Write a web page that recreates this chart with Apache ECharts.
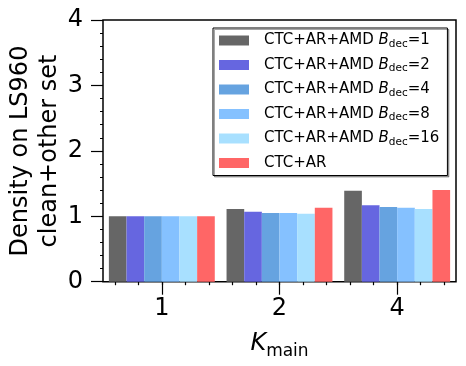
<!DOCTYPE html>
<html><head><meta charset="utf-8">
<script src="https://cdn.jsdelivr.net/npm/echarts@6/dist/echarts.min.js"></script>
<style>html,body{margin:0;padding:0;background:#fff}#c{width:466px;height:366px}</style>
</head><body><div id="c"></div>
<script>
var categories = ['1', '2', '4'];
var bdecValues = [1, 2, 4, 8, 16];
var seriesNames = ['CTC+AR+AMD B_dec=1', 'CTC+AR+AMD B_dec=2', 'CTC+AR+AMD B_dec=4', 'CTC+AR+AMD B_dec=8', 'CTC+AR+AMD B_dec=16', 'CTC+AR'];
var amd1 = [1.00, 1.11, 1.39];
var amd2 = [1.00, 1.07, 1.17];
var amd4 = [1.00, 1.05, 1.14];
var amd8 = [1.00, 1.05, 1.13];
var amd16 = [1.00, 1.04, 1.11];
var ctcAr = [1.00, 1.13, 1.40];
var seriesValues = [amd1, amd2, amd4, amd8, amd16, ctcAr];
var colors = ['#666666', '#6666e0', '#66a3e0', '#85c1ff', '#a8e0ff', '#ff6666'];
var yTicks = [0, 1, 2, 3, 4];
var yLabel = 'Density on LS960\nclean+other set';

var FONT = 'DejaVu Sans';
var BIG = 24;
var chart = echarts.init(document.getElementById('c'), null, {renderer: 'canvas'});

var series = seriesValues.map(function (vals, i) {
  return {
    name: seriesNames[i], type: 'bar', xAxisIndex: 0, yAxisIndex: 0,
    data: vals, barGap: '0%', barCategoryGap: '10%',
    itemStyle: {color: colors[i]}, emphasis: {disabled: true}, animation: false
  };
});

var bandLeft = 103, bandRight = 10;
var band = (466 - bandLeft - bandRight) / 3;

var option = {
  animation: false,
  color: colors,
  grid: [
    {left: bandLeft, right: bandRight, top: 20, bottom: 84.3, show: true, borderColor: '#000', borderWidth: 1.5, backgroundColor: 'transparent'},
    {left: bandLeft + 0.1 * band, right: 466 - (bandLeft + 2.9 * band), top: 20, bottom: 84.3, show: false}
  ],
  xAxis: [
    {type: 'category', gridIndex: 0, data: categories,
     axisLine: {show: false},
     axisTick: {show: true, alignWithLabel: true, length: 13, lineStyle: {color: '#000', width: 1.2}},
     axisLabel: {fontSize: BIG, fontFamily: FONT, color: '#000', margin: 15},
     splitLine: {show: false},
     name: '{k|K}{m|main}', nameLocation: 'middle', nameGap: 46,
     nameTextStyle: {rich: {
       k: {fontSize: BIG, fontFamily: FONT, fontStyle: 'italic', color: '#000', lineHeight: 28, verticalAlign: 'bottom'},
       m: {fontSize: 17, fontFamily: FONT, color: '#000', lineHeight: 22, verticalAlign: 'bottom', padding: [0, 0, -4, 0]}
     }}
    },
    {type: 'value', gridIndex: 1, min: -0.4, max: 2.4, interval: 0.2,
     axisLine: {show: false}, axisLabel: {show: false}, splitLine: {show: false},
     axisTick: {show: true, length: 3.5, lineStyle: {color: '#000', width: 1.2}}}
  ],
  yAxis: [
    {type: 'value', gridIndex: 0, min: yTicks[0], max: yTicks[yTicks.length - 1], interval: 1,
     axisLine: {show: false},
     axisTick: {show: true, length: 12, lineStyle: {color: '#000', width: 1.2}},
     minorTick: {show: true, splitNumber: 5, length: 3, lineStyle: {color: '#000', width: 1}},
     axisLabel: {fontSize: BIG, fontFamily: FONT, color: '#000', margin: 20},
     splitLine: {show: false}, minorSplitLine: {show: false}},
    {type: 'value', gridIndex: 1, show: false, min: 0, max: 4}
  ],
  legend: {
    orient: 'vertical', left: 213, top: 28,
    data: seriesNames,
    itemWidth: 30, itemHeight: 10, itemGap: 8,
    padding: [5, 8, 5, 6],
    backgroundColor: '#fff', borderColor: '#000', borderWidth: 1, borderRadius: 0,
    shadowColor: 'rgba(0,0,0,0.35)', shadowOffsetX: 1.5, shadowOffsetY: 1.5, shadowBlur: 0,
    selectedMode: false,
    icon: 'rect',
    formatter: function (name) {
      var idx = seriesNames.indexOf(name);
      if (idx < bdecValues.length) {
        return '{a|CTC+AR+AMD }{b|B}{s|dec}{a|=' + bdecValues[idx] + '}';
      }
      return '{a|' + name + '}';
    },
    textStyle: {
      padding: [0, 0, 0, 10],
      rich: {
        a: {fontSize: 15, fontFamily: FONT, color: '#000', lineHeight: 18},
        b: {fontSize: 15, fontFamily: FONT, fontStyle: 'italic', color: '#000', lineHeight: 18},
        s: {fontSize: 10.5, fontFamily: FONT, color: '#000', lineHeight: 18, verticalAlign: 'bottom', padding: [5, 0, 0, 0]}
      }
    }
  },
  graphic: [
    {type: 'text', x: 35, y: 151, rotation: Math.PI / 2, silent: true,
     style: {text: yLabel, fontSize: BIG, fontFamily: FONT, fill: '#000', textAlign: 'center', textVerticalAlign: 'middle', align: 'center', verticalAlign: 'middle', lineHeight: 29}}
  ],
  series: series
};
chart.setOption(option);
</script>
</body></html>
